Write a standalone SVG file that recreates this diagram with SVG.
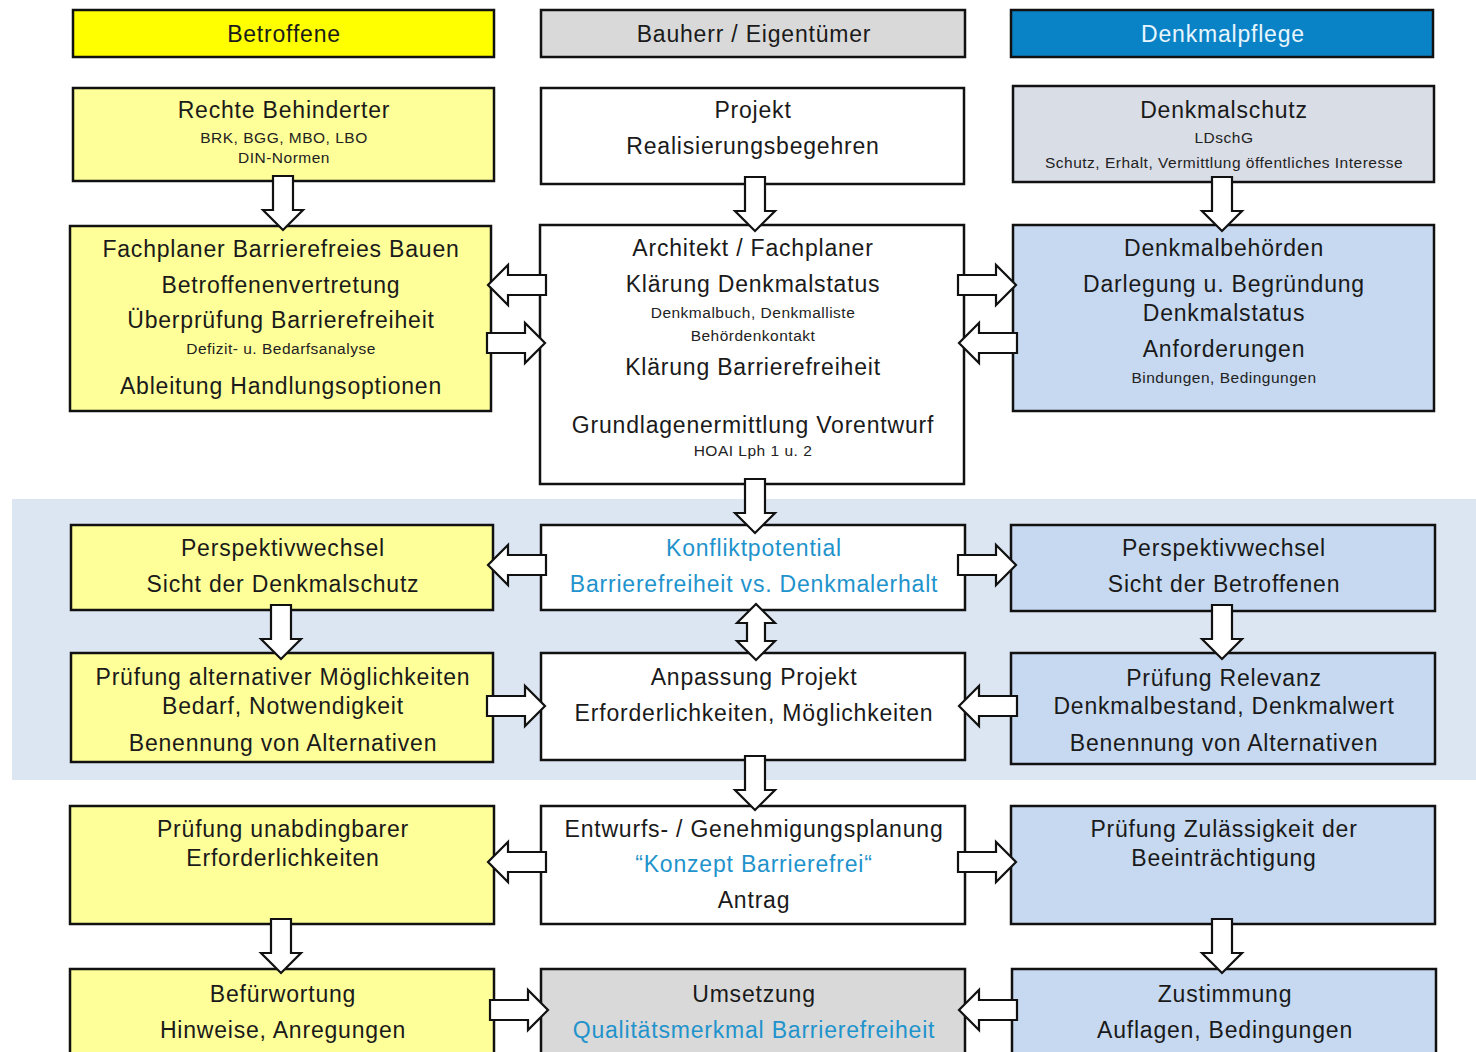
<svg xmlns="http://www.w3.org/2000/svg" xmlns:xlink="http://www.w3.org/1999/xlink" width="1476" height="1052" viewBox="0 0 1476 1052">
<style>
.box{stroke:#111;stroke-width:2.5}
.y{fill:#ffff99}.w{fill:#ffffff}.b{fill:#c6d9f0}.g{fill:#d9d9d9}.gb{fill:#d9dde6}
.t{font-family:"Liberation Sans",Arial,sans-serif;font-size:23px;letter-spacing:0.8px;fill:#1a1a1a;text-anchor:middle}
.s{font-family:"Liberation Sans",Arial,sans-serif;font-size:15.5px;letter-spacing:0.5px;fill:#222;text-anchor:middle}
.bl{fill:#1f93cc}
.ar{fill:#fff;stroke:#111;stroke-width:2.2;stroke-linejoin:miter}
</style>
<defs>
<path id="h" d="M0,-10 H38 V-20 L58,0 L38,20 V10 H0 Z"/>
<path id="d" d="M-10,0 V34 H-20 L0,54 L20,34 H10 V0 Z"/>
</defs>
<rect x="0" y="0" width="1476" height="1052" fill="#fff"/>
<rect id="band" x="12" y="499" width="1464" height="281" fill="#dce6f2"/>

<g id="hdr-betroffene"><rect class="box" x="73" y="10" width="421" height="47" fill="#ffff00"/><text class="t" x="284" y="42">Betroffene</text></g>
<g id="hdr-bauherr"><rect class="box g" x="541" y="10" width="424" height="47"/><text class="t" x="754" y="42">Bauherr / Eigentümer</text></g>
<g id="hdr-denkmalpflege"><rect class="box" x="1011" y="10" width="422" height="47" fill="#0a83c6"/><text class="t" x="1223" y="42" style="fill:#e8f6ff">Denkmalpflege</text></g>

<g id="n-rechte"><rect class="box y" x="73" y="88" width="421" height="93"/><text class="t" x="284" y="118">Rechte Behinderter</text><text class="s" x="284" y="143">BRK, BGG, MBO, LBO</text><text class="s" x="284" y="163">DIN-Normen</text></g>
<g id="n-projekt"><rect class="box w" x="541" y="88" width="423" height="96"/><text class="t" x="753" y="118">Projekt</text><text class="t" x="753" y="154">Realisierungsbegehren</text></g>
<g id="n-denkmalschutz"><rect class="box gb" x="1013" y="86" width="421" height="96"/><text class="t" x="1224" y="118">Denkmalschutz</text><text class="s" x="1224" y="143">LDschG</text><text class="s" x="1224" y="168">Schutz, Erhalt, Vermittlung öffentliches Interesse</text></g>

<g id="n-fachplaner"><rect class="box y" x="70" y="226" width="421" height="185"/><text class="t" x="281" y="257">Fachplaner Barrierefreies Bauen</text><text class="t" x="281" y="293">Betroffenenvertretung</text><text class="t" x="281" y="328">Überprüfung Barrierefreiheit</text><text class="s" x="281" y="354">Defizit- u. Bedarfsanalyse</text><text class="t" x="281" y="394">Ableitung Handlungsoptionen</text></g>
<g id="n-architekt"><rect class="box w" x="540" y="225" width="424" height="259"/><text class="t" x="753" y="256">Architekt / Fachplaner</text><text class="t" x="753" y="292">Klärung Denkmalstatus</text><text class="s" x="753" y="318">Denkmalbuch, Denkmalliste</text><text class="s" x="753" y="341">Behördenkontakt</text><text class="t" x="753" y="375">Klärung Barrierefreiheit</text><text class="t" x="753" y="433">Grundlagenermittlung Vorentwurf</text><text class="s" x="753" y="456">HOAI Lph 1 u. 2</text></g>
<g id="n-denkmalbehoerden"><rect class="box b" x="1013" y="225" width="421" height="186"/><text class="t" x="1224" y="256">Denkmalbehörden</text><text class="t" x="1224" y="292">Darlegung u. Begründung</text><text class="t" x="1224" y="321">Denkmalstatus</text><text class="t" x="1224" y="357">Anforderungen</text><text class="s" x="1224" y="383">Bindungen, Bedingungen</text></g>

<g id="n-persp-left"><rect class="box y" x="71" y="525" width="422" height="85"/><text class="t" x="283" y="556">Perspektivwechsel</text><text class="t" x="283" y="592">Sicht der Denkmalschutz</text></g>
<g id="n-konflikt"><rect class="box w" x="541" y="525" width="424" height="85"/><text class="t bl" x="754" y="556">Konfliktpotential</text><text class="t bl" x="754" y="592">Barrierefreiheit vs. Denkmalerhalt</text></g>
<g id="n-persp-right"><rect class="box b" x="1011" y="525" width="424" height="86"/><text class="t" x="1224" y="556">Perspektivwechsel</text><text class="t" x="1224" y="592">Sicht der Betroffenen</text></g>

<g id="n-pruef-alt"><rect class="box y" x="71" y="653" width="422" height="109"/><text class="t" x="283" y="685">Prüfung alternativer Möglichkeiten</text><text class="t" x="283" y="714">Bedarf, Notwendigkeit</text><text class="t" x="283" y="751">Benennung von Alternativen</text></g>
<g id="n-anpassung"><rect class="box w" x="541" y="653" width="424" height="107"/><text class="t" x="754" y="685">Anpassung Projekt</text><text class="t" x="754" y="721">Erforderlichkeiten, Möglichkeiten</text></g>
<g id="n-pruef-rel"><rect class="box b" x="1011" y="653" width="424" height="111"/><text class="t" x="1224" y="686">Prüfung Relevanz</text><text class="t" x="1224" y="714">Denkmalbestand, Denkmalwert</text><text class="t" x="1224" y="751">Benennung von Alternativen</text></g>

<g id="n-pruef-unab"><rect class="box y" x="70" y="806" width="424" height="118"/><text class="t" x="283" y="837">Prüfung unabdingbarer</text><text class="t" x="283" y="866">Erforderlichkeiten</text></g>
<g id="n-entwurf"><rect class="box w" x="541" y="806" width="424" height="118"/><text class="t" x="754" y="837">Entwurfs- / Genehmigungsplanung</text><text class="t bl" x="754" y="872">“Konzept Barrierefrei“</text><text class="t" x="754" y="908">Antrag</text></g>
<g id="n-pruef-zul"><rect class="box b" x="1011" y="806" width="424" height="118"/><text class="t" x="1224" y="837">Prüfung Zulässigkeit der</text><text class="t" x="1224" y="866">Beeinträchtigung</text></g>

<g id="n-befuerwortung"><rect class="box y" x="70" y="969" width="424" height="100"/><text class="t" x="283" y="1002">Befürwortung</text><text class="t" x="283" y="1038">Hinweise, Anregungen</text></g>
<g id="n-umsetzung"><rect class="box g" x="541" y="969" width="424" height="100"/><text class="t" x="754" y="1002">Umsetzung</text><text class="t bl" x="754" y="1038">Qualitätsmerkmal Barrierefreiheit</text></g>
<g id="n-zustimmung"><rect class="box b" x="1012" y="969" width="424" height="100"/><text class="t" x="1225" y="1002">Zustimmung</text><text class="t" x="1225" y="1038">Auflagen, Bedingungen</text></g>

<g id="connectors" class="ar">
<use xlink:href="#d" transform="translate(283,176)"/>
<use xlink:href="#d" transform="translate(755,177)"/>
<use xlink:href="#d" transform="translate(1222,177)"/>
<use xlink:href="#d" transform="translate(755,479)"/>
<use xlink:href="#d" transform="translate(281,605)"/>
<use xlink:href="#d" transform="translate(1222,605)"/>
<use xlink:href="#d" transform="translate(755,756)"/>
<use xlink:href="#d" transform="translate(281,919)"/>
<use xlink:href="#d" transform="translate(1222,919)"/>
<path d="M756,604 L775,623 H765 V641 H775 L756,660 L737,641 H747 V623 H737 Z"/>
<use xlink:href="#h" transform="translate(546,285) scale(-1,1)"/>
<use xlink:href="#h" transform="translate(487,343)"/>
<use xlink:href="#h" transform="translate(958,285)"/>
<use xlink:href="#h" transform="translate(1017,343) scale(-1,1)"/>
<use xlink:href="#h" transform="translate(546,565) scale(-1,1)"/>
<use xlink:href="#h" transform="translate(958,565)"/>
<use xlink:href="#h" transform="translate(487,706)"/>
<use xlink:href="#h" transform="translate(1017,706) scale(-1,1)"/>
<use xlink:href="#h" transform="translate(546,862) scale(-1,1)"/>
<use xlink:href="#h" transform="translate(958,862)"/>
<use xlink:href="#h" transform="translate(490,1010)"/>
<use xlink:href="#h" transform="translate(1017,1010) scale(-1,1)"/>
</g>
</svg>
